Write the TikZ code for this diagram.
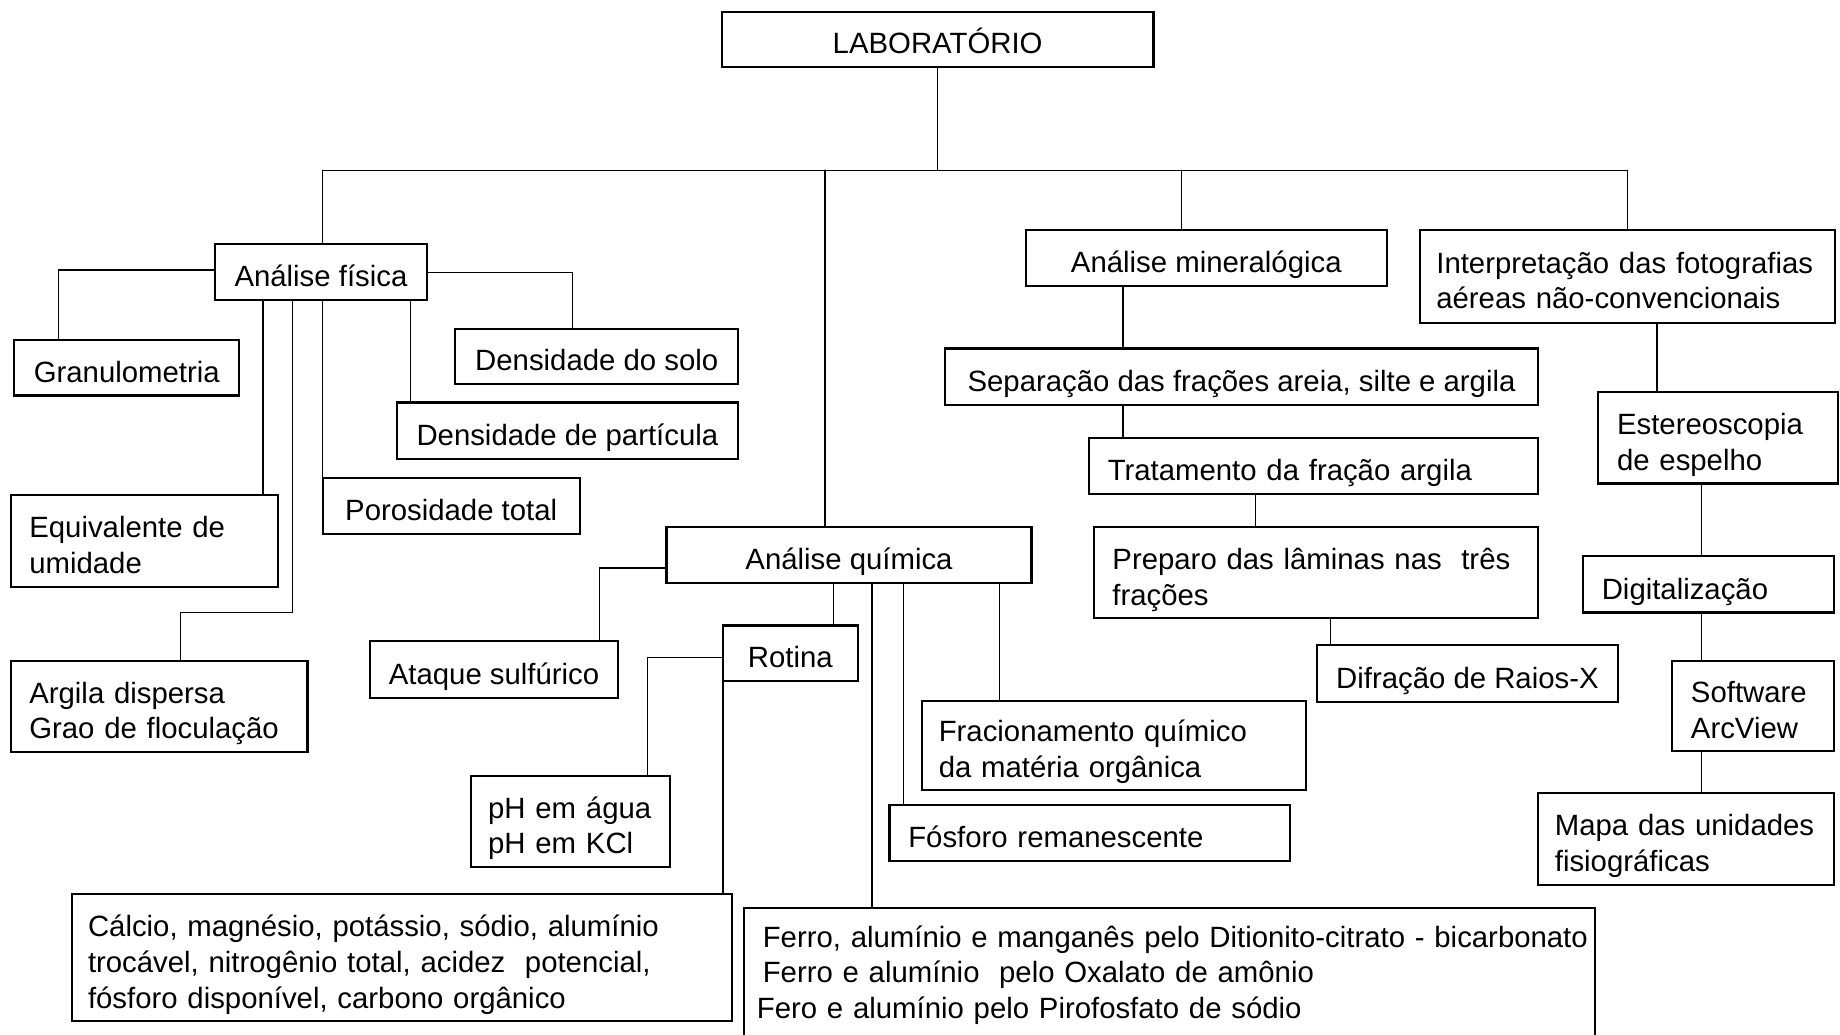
\documentclass[tikz,border=0pt]{standalone}
\usepackage{fontspec}
\setmainfont{Liberation Sans}
\newcommand{\boxfont}{\fontsize{25}{30.5}\selectfont}

\begin{document}
\begin{tikzpicture}[x=1pt,y=-1pt,line cap=round,
  box/.style={draw,line width=1.8pt,line cap=butt,outer sep=0pt,inner xsep=16pt,inner ysep=0pt,anchor=north west,font=\boxfont},
  one/.style={text height=25pt,text depth=0pt},
  two/.style={text height=25pt,text depth=30.5pt},
  three/.style={text height=25pt,text depth=61pt},
  link/.style={line width=1.1pt}]
  \fill[white] (0,0) rectangle (1568,882);
  \useasboundingbox (0,0) rectangle (1568,882);
  % top of the tree
  \node[box,one,minimum width=368pt,minimum height=47pt] (lab) at (615,10) {LABORATÓRIO};
  % physical analysis
  \node[box,one,minimum width=181pt,minimum height=48pt] (fis) at (183,208) {Análise física};
  \node[box,one,minimum width=192pt,minimum height=47pt] (gran) at (12,290) {Granulometria};
  \node[box,one,minimum width=241pt,minimum height=47pt] (dsolo) at (388,280) {Densidade do solo};
  \node[box,one,minimum width=291pt,minimum height=48pt] (dpart) at (338,343) {Densidade de partícula};
  \node[box,one,minimum width=219pt,minimum height=48pt] (poros) at (275,407) {Porosidade total};
  \node[box,two,align=left,text width=196pt,minimum height=78pt] (equiv) at (9,422) {Equivalente de\\umidade};
  \node[box,two,align=left,text width=221pt,minimum height=78pt] (argila) at (9,563) {Argila dispersa\\Grao de floculação};
  % chemical analysis
  \node[box,one,minimum width=311pt,minimum height=48pt] (quim) at (568,449) {Análise química};
  \node[box,one,minimum width=212pt,minimum height=49pt] (ataque) at (315,546) {Ataque sulfúrico};
  \node[box,one,minimum width=115pt,minimum height=47pt] (rotina) at (616,533) {Rotina};
  \node[box,two,align=left,inner xsep=15pt,text width=140pt,minimum height=78pt] (ph) at (401,661) {pH em água\\pH em KCl};
  \node[box,three,align=left,inner xsep=14pt,text width=535pt,minimum height=108pt] (calcio) at (61,762) {Cálcio, magnésio, potássio, sódio, alumínio\\trocável, nitrogênio total, acidez~~potencial,\\fósforo disponível, carbono orgânico};
  \node[box,align=left,inner xsep=11pt,text width=703pt,minimum height=114pt] (ferro) at (634,774) {\hspace*{5pt}\mbox{Ferro, alumínio e manganês pelo Ditionito-citrato - bicarbonato}\\\hspace*{5pt}Ferro e alumínio~~pelo Oxalato de amônio\\Fero e alumínio pelo Pirofosfato de sódio};
  \node[box,one,align=left,text width=309pt,minimum height=48pt] (fosf) at (758,686) {Fósforo remanescente};
  \node[box,two,align=left,inner xsep=14pt,text width=299pt,minimum height=76pt] (fracion) at (786,597) {Fracionamento químico\\da matéria orgânica};
  % mineralogical analysis
  \node[box,one,minimum width=308pt,minimum height=48pt] (mineral) at (874,196) {Análise mineralógica};
  \node[box,one,minimum width=506pt,minimum height=48pt] (separ) at (805,297) {Separação das frações areia, silte e argila};
  \node[box,one,align=left,text width=351pt,minimum height=48pt] (trat) at (928,373) {Tratamento da fração argila};
  \node[box,two,align=left,text width=347pt,minimum height=78pt] (prep) at (932,449) {Preparo das lâminas nas~~três\\frações};
  \node[box,one,minimum width=257pt,minimum height=48pt] (difr) at (1122,550) {Difração de Raios-X};
  % aerial photographs
  \node[box,two,align=left,inner xsep=14pt,text width=326pt,minimum height=79pt] (interp) at (1210,196) {Interpretação das fotografias\\aéreas não-convencionais};
  \node[box,two,align=left,text width=172pt,minimum height=78pt] (estereo) at (1362,334) {Estereoscopia\\de espelho};
  \node[box,one,align=left,text width=182pt,minimum height=48pt] (digital) at (1349,474) {Digitalização};
  \node[box,two,align=left,text width=106pt,minimum height=77pt] (soft) at (1425,563) {Software\\ArcView};
  \node[box,two,align=left,inner xsep=14pt,text width=224pt,minimum height=78pt] (mapa) at (1311,676) {Mapa das unidades\\fisiográficas};

  % main bus
  \coordinate (busL) at (275,145); \coordinate (busR) at (1387,145);
  \coordinate (tq) at (703,145); \coordinate (tm) at (1007,145);
  \draw[link] (lab.south) -- (lab.south |- busL);
  \draw[link] (busL) -- (busR);
  \draw[link] (busL) -- (busL |- fis.north);
  \draw[link] (tq) -- (tq |- quim.north);
  \draw[link] (tm) -- (tm |- mineral.north);
  \draw[link] (busR) -- (busR |- interp.north);
  % straight drops
  \foreach \x/\a/\b in {350/fis/dpart,224/fis/equiv,710/quim/rotina,743/quim/ferro,770/quim/fosf,852/quim/fracion,957/mineral/separ,957/separ/trat,1070/trat/prep,1134/prep/difr,1412/interp/estereo,1450/estereo/digital,1450/digital/soft,1450/soft/mapa}{
    \coordinate (k) at (\x,0);
    \draw[link] (k |- \a.south) -- (k |- \b.north);
  }
  % elbows
  \coordinate (gl) at (50,230); \coordinate (gr) at (488,0);
  \coordinate (fa) at (249,522); \coordinate (fb) at (154,0);
  \coordinate (qa) at (511,484); \coordinate (ra) at (552,560);
  \draw[link] (fis.west |- gl) -- (gl) -- (gl |- gran.north);
  \draw[link] (fis.east) -| (gr |- dsolo.north);
  \draw[link] (poros.north west |- fis.south) -- (poros.north west);
  \draw[link] (fa |- fis.south) -- (fa) -| (fb |- argila.north);
  \draw[link] (quim.west |- qa) -- (qa) -- (qa |- ataque.north);
  \draw[link] (rotina.west |- ra) -- (ra) -- (ra |- ph.north);
  \draw[link] (rotina.south west) -- (rotina.south west |- calcio.north);
\end{tikzpicture}
\end{document}
